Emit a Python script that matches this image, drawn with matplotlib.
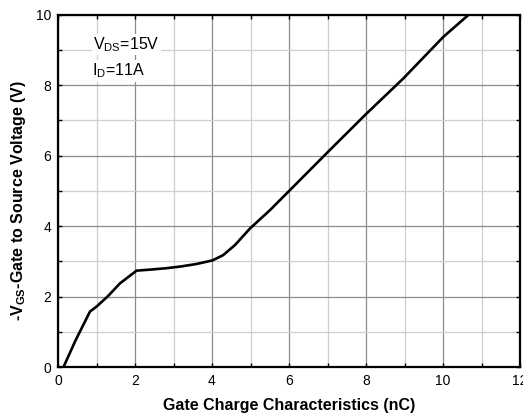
import matplotlib
matplotlib.use("Agg")
import matplotlib.pyplot as plt
from matplotlib.ticker import MultipleLocator

plt.rcParams['font.family'] = ['Liberation Sans', 'DejaVu Sans']
plt.rcParams['mathtext.fontset'] = 'custom'
plt.rcParams['mathtext.rm'] = 'Liberation Sans'
plt.rcParams['mathtext.bf'] = 'Liberation Sans:bold'
plt.rcParams['mathtext.default'] = 'regular'

qg = [0.14, 0.45, 0.83, 1.0, 1.3, 1.61, 2.04, 2.4, 2.82, 3.2, 3.6, 4.01,
      4.29, 4.6, 4.99, 5.51, 6.24, 7.06, 8.02, 8.97, 10.01, 10.66]
vgs = [0.0, 0.75, 1.58, 1.72, 2.02, 2.38, 2.74, 2.77, 2.81, 2.86, 2.93, 3.03,
       3.18, 3.47, 3.94, 4.46, 5.26, 6.16, 7.2, 8.19, 9.37, 9.99]

x_ticks = [0, 2, 4, 6, 8, 10, 12]
y_ticks = [0, 2, 4, 6, 8, 10]

fig = plt.figure(figsize=(5.23, 4.19), dpi=100)
ax = fig.add_axes([58/523, 1-367.3/419, 462/523, (367.3-14.6)/419])

ax.plot(qg, vgs, color='black', lw=1.9, solid_capstyle='round', zorder=3)

ax.set_xlim(0, 12)
ax.set_ylim(0, 10)
ax.set_xticks(x_ticks)
ax.set_yticks(y_ticks)
ax.xaxis.set_minor_locator(MultipleLocator(1))
ax.yaxis.set_minor_locator(MultipleLocator(1))
ax.grid(which='major', color='#8c8c8c', lw=0.9)
ax.grid(which='minor', color='#cfcfcf', lw=0.9)
ax.set_axisbelow(True)
ax.tick_params(which='both', direction='in', length=3, width=1, labelsize=10,
               top=True, right=True, pad=5)
for s in ax.spines.values():
    s.set_linewidth(1.6)

ax.set_xlabel('Gate Charge Characteristics (nC)', fontsize=11.5, fontweight='bold', labelpad=7)
ax.set_ylabel(r'-$\mathbf{V_{GS}}$-Gate to Source Voltage (V)', fontsize=11.5,
              fontweight='bold')
ax.yaxis.set_label_coords(-0.066, 0.474)

ax.text(0.92, 9.15, r'$V_{DS}$=15V', fontsize=11.5, va='center', ha='left',
        bbox=dict(facecolor='white', edgecolor='none', pad=1))
ax.text(0.88, 8.4, r'$I_{D}$=11A', fontsize=11.5, va='center', ha='left',
        bbox=dict(facecolor='white', edgecolor='none', pad=1))

fig.savefig('out.png', dpi=100)
